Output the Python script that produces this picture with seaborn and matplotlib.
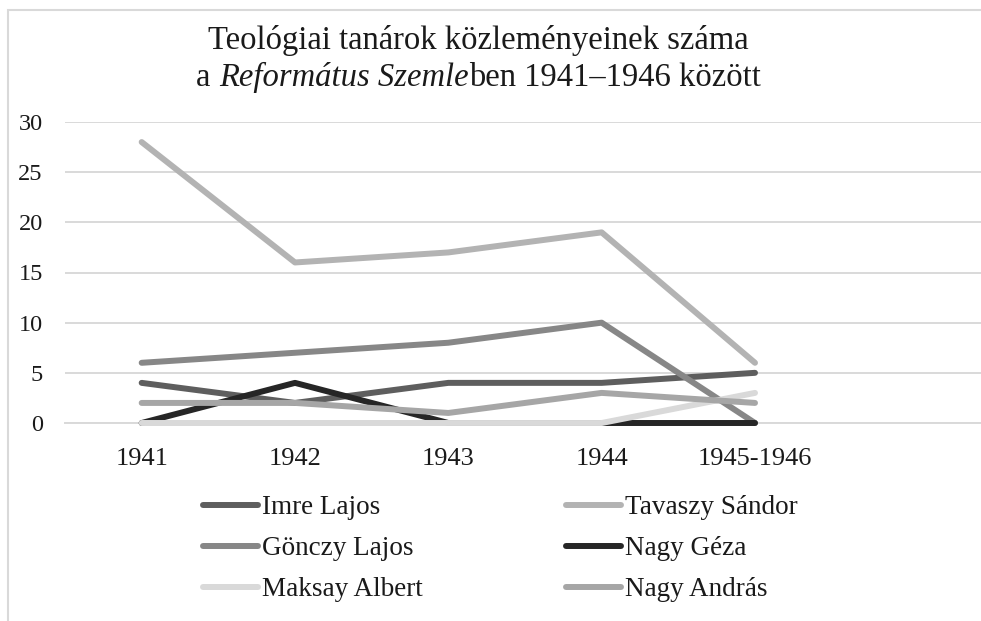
import pandas as pd
import matplotlib
matplotlib.use("Agg")
import matplotlib.pyplot as plt
import seaborn as sns
from matplotlib.patches import Rectangle

# data
years = ["1941", "1942", "1943", "1944", "1945-1946"]
imre_lajos = [4, 2, 4, 4, 5]
tavaszy_sandor = [28, 16, 17, 19, 6]
gonczy_lajos = [6, 7, 8, 10, 0]
nagy_geza = [0, 4, 0, 0, 0]
maksay_albert = [0, 0, 0, 0, 3]
nagy_andras = [2, 2, 1, 3, 2]

names = ["Imre Lajos", "Tavaszy Sándor", "Gönczy Lajos",
         "Nagy Géza", "Maksay Albert", "Nagy András"]
series = [imre_lajos, tavaszy_sandor, gonczy_lajos,
          nagy_geza, maksay_albert, nagy_andras]
colors = ["#5e5e5e", "#b3b3b3", "#878787", "#262626", "#d9d9d9", "#a6a6a6"]

rows = []
for name, vals in zip(names, series):
    for i, v in enumerate(vals):
        rows.append({"ev": i, "tanar": name, "db": v})
df = pd.DataFrame(rows)

sns.set_theme(style="white")
plt.rcParams["font.family"] = ["Liberation Serif", "DejaVu Serif"]
txt_color = "#1a1a1a"
grid_color = "#d9d9d9"

W, H = 981, 621
fig = plt.figure(figsize=(W / 100, H / 100), dpi=100)
ax = fig.add_axes([65 / W, 1 - 423 / H, 920 / W, 301 / H])

sns.lineplot(data=df, x="ev", y="db", hue="tanar", hue_order=names,
             palette=colors, linewidth=4.3, sort=False, ax=ax,
             solid_capstyle="round", clip_on=False, zorder=3)

ax.set_xlim(-0.5, 5.5)
ax.set_ylim(0, 30)
ax.set_xticks(range(len(years)))
ax.set_xticklabels(years)
ax.set_yticks(range(0, 31, 5))
ax.set_xlabel("")
ax.set_ylabel("")
ax.yaxis.grid(True, color=grid_color, linewidth=1.4)
ax.set_axisbelow(True)
for s in ["top", "left", "right"]:
    ax.spines[s].set_visible(False)
ax.spines["bottom"].set_color(grid_color)
ax.spines["bottom"].set_linewidth(1.4)
ax.tick_params(axis="y", length=0, pad=16, labelsize=17.5, labelcolor=txt_color)
ax.tick_params(axis="x", length=0, pad=18, labelsize=19, labelcolor=txt_color)

# legend: 2 columns, filled row by row like the original
handles, labels = ax.get_legend_handles_labels()
order = [0, 2, 4, 1, 3, 5]
ax.legend([handles[i] for i in order], [labels[i] for i in order],
          ncol=2, loc="upper left", bbox_to_anchor=(203 / W, 1 - 495 / H),
          bbox_transform=fig.transFigure, frameon=False, fontsize=19.5,
          handlelength=2.03, handletextpad=0.15, labelspacing=0.6,
          columnspacing=5.28, borderpad=0, borderaxespad=0,
          labelcolor=txt_color)

# title, second line partly italic
fig.text(478.5 / W, 1 - 49 / H, "Teológiai tanárok közleményeinek száma",
         ha="center", va="baseline", fontsize=23.5, color=txt_color)
pieces = [("a ", "normal"), ("Református Szemle", "italic"),
          ("ben 1941–1946 között", "normal")]
renderer = fig.canvas.get_renderer()
objs = []
total = 0
for s, st in pieces:
    t = fig.text(0, 1 - 86 / H, s, ha="left", va="baseline", fontsize=23.5,
                 style=st, color=txt_color)
    w = t.get_window_extent(renderer).width
    objs.append((t, w))
    total += w
x = 478.5 - total / 2
for t, w in objs:
    t.set_x(x / W)
    x += w

# chart frame (left and top edges visible)
fig.add_artist(Rectangle((8 / W, -0.5), 1.5, 0.5 + 1 - 10 / H,
                         transform=fig.transFigure, fill=False,
                         edgecolor=grid_color, linewidth=1.5))

fig.savefig("out.png", dpi=100)
